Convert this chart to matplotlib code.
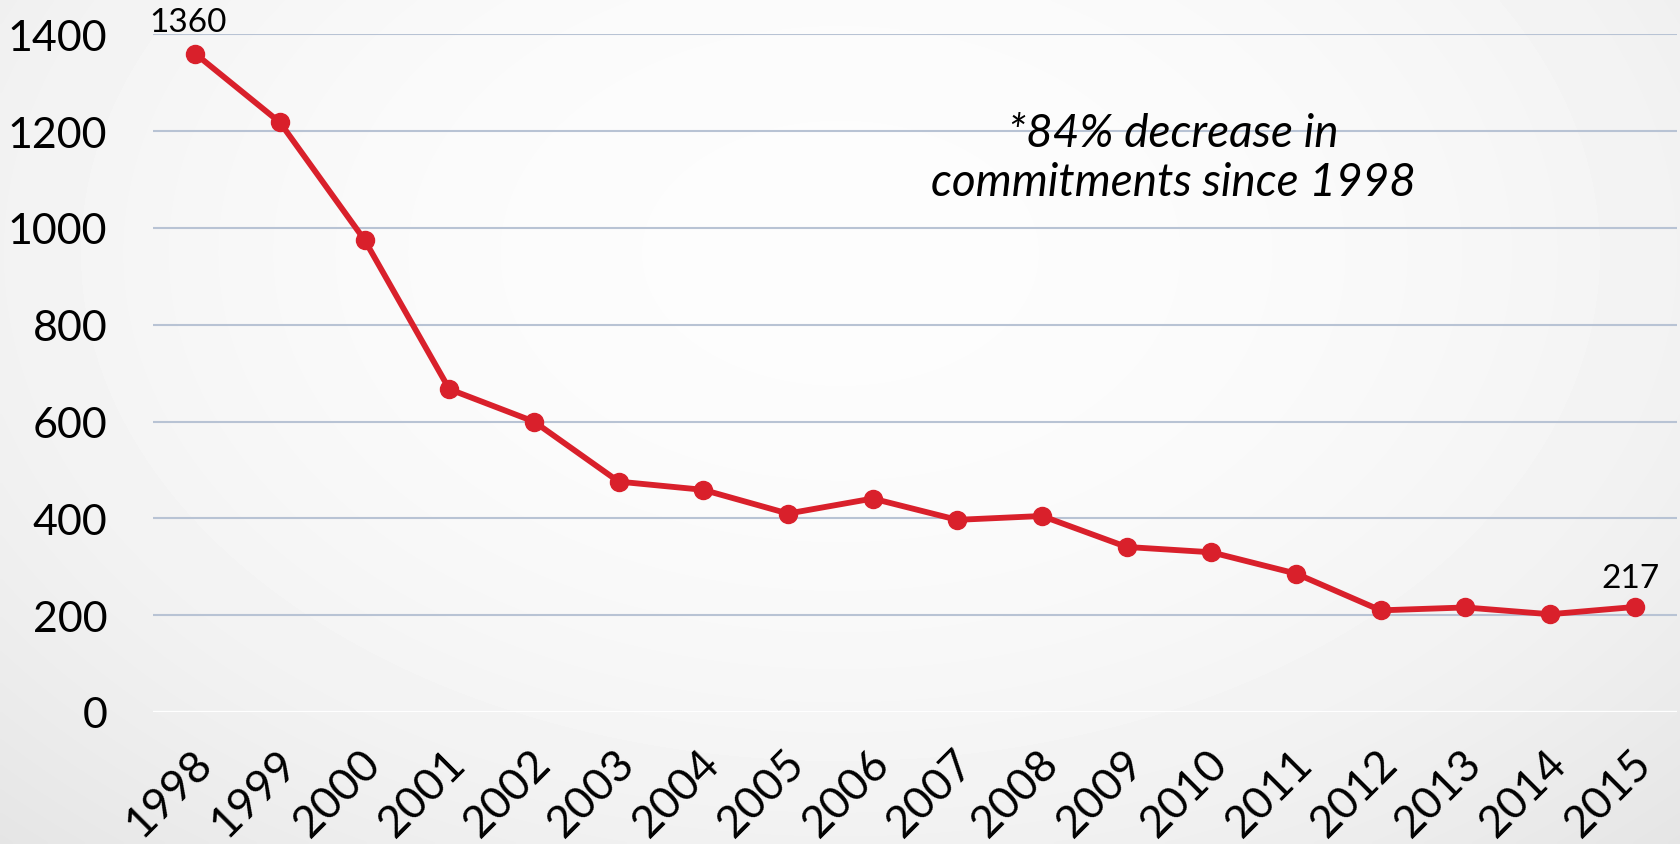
import numpy as np
import matplotlib
matplotlib.use("Agg")
import matplotlib.pyplot as plt
from matplotlib.transforms import ScaledTranslation

# data
years = ["1998", "1999", "2000", "2001", "2002", "2003", "2004", "2005", "2006",
         "2007", "2008", "2009", "2010", "2011", "2012", "2013", "2014", "2015"]
commitments = [1360, 1218, 975, 667, 600, 476, 459, 410, 441,
               397, 405, 341, 330, 286, 210, 216, 202, 217]
yticks = [0, 200, 400, 600, 800, 1000, 1200, 1400]
note = "*84% decrease in\ncommitments since 1998"

plt.rcParams["font.family"] = ["Lato", "DejaVu Sans"]

fig = plt.figure(figsize=(16.81, 8.45), dpi=100)

# soft gray background gradient
bg = fig.add_axes([0, 0, 1, 1], zorder=-10)
gx, gy = np.meshgrid(np.linspace(0, 1, 400), np.linspace(0, 1, 200))
r = np.sqrt(((gx - 0.5) / 0.75) ** 2 + ((gy - 0.3) / 1.0) ** 2)
shade = 0.99 - 0.10 * np.clip(r, 0, 1.3) ** 2.2
bg.imshow(shade, cmap="gray", vmin=0, vmax=1, aspect="auto", extent=[0, 1, 1, 0],
          interpolation="bilinear")
bg.axis("off")

ax = fig.add_axes([153 / 1681, 1 - 713 / 845, 1524 / 1681, (713 - 35.4) / 845])
ax.patch.set_alpha(0)

x = np.arange(len(years))
ax.plot(x, commitments, color="#d9202b", lw=4.2, marker="o", ms=13, zorder=3,
        solid_capstyle="round")

ax.set_xlim(-0.5, len(years) - 0.5)
ax.set_ylim(0, 1400)
ax.set_yticks(yticks)
ax.set_yticklabels([str(v) for v in yticks], fontsize=31)
ax.grid(axis="y", color="#b8c3d4", lw=1.5)
ax.axhline(0, color="white", lw=2.5, zorder=2)
for s in ax.spines.values():
    s.set_visible(False)
ax.tick_params(axis="both", length=0)
ax.tick_params(axis="y", pad=33)

ax.set_xticks(x)
ax.set_xticklabels(years, fontsize=32, rotation=45, ha="right", va="center",
                   rotation_mode="anchor")
ax.tick_params(axis="x", pad=32)
off = ScaledTranslation(10 / 100, 0, fig.dpi_scale_trans)
for lab in ax.get_xticklabels():
    lab.set_transform(lab.get_transform() + off)

# end labels
ax.annotate(str(commitments[0]), (x[0], commitments[0]), xytext=(-5, 12),
            textcoords="offset points", ha="center", va="bottom", fontsize=24)
ax.annotate(str(commitments[-1]), (x[-1], commitments[-1]), xytext=(-3, 10),
            textcoords="offset points", ha="center", va="bottom", fontsize=24)

ax.text(11.55, 1146, note, fontsize=33, style="italic", ha="center", va="center",
        linespacing=1.2)

fig.savefig("out.png", dpi=100)
